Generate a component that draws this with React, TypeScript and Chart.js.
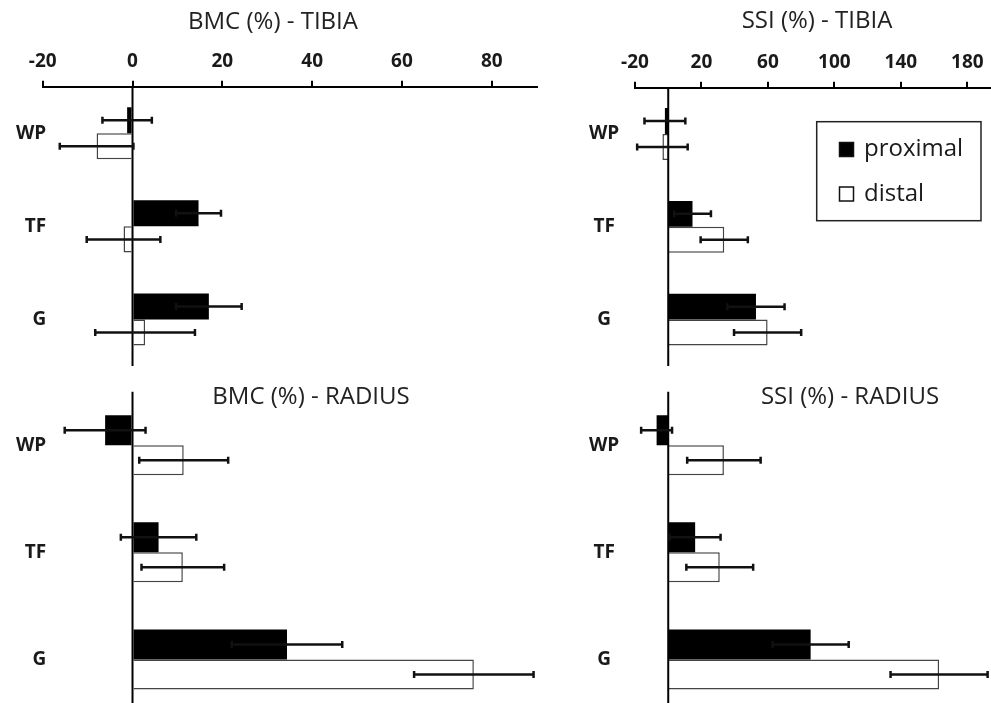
import React, { useEffect, useRef } from "react";
import { Chart, registerables } from "chart.js";

Chart.register(...registerables);

// ---------- data ----------
const categories = ["WP", "TF", "G"];
const seriesNames = ["proximal", "distal"];

const bmcTickValues = [-20, 0, 20, 40, 60, 80];
const ssiTickValues = [-20, 20, 60, 100, 140, 180];

const bmcTibiaProximal = [-1.2, 14.7, 17.0];
const bmcTibiaProximalErr = [5.5, 5.0, 7.3];
const bmcTibiaDistal = [-8.0, -2.0, 2.8];
const bmcTibiaDistalErr = [8.2, 8.2, 11.1];

const ssiTibiaProximal = [-2.0, 14.6, 52.8];
const ssiTibiaProximalErr = [12.3, 11.1, 17.2];
const ssiTibiaDistal = [-3.5, 33.7, 59.8];
const ssiTibiaDistalErr = [15.2, 14.2, 20.2];

const bmcRadiusProximal = [-6.1, 5.8, 34.4];
const bmcRadiusProximalErr = [9.0, 8.4, 12.3];
const bmcRadiusDistal = [11.4, 11.2, 76.0];
const bmcRadiusDistalErr = [9.9, 9.2, 13.3];

const ssiRadiusProximal = [-7.0, 16.2, 85.7];
const ssiRadiusProximalErr = [9.3, 15.3, 22.9];
const ssiRadiusDistal = [33.5, 31.0, 163.0];
const ssiRadiusDistalErr = [22.1, 20.1, 29.2];

// ---------- styling ----------
const FONT = '"Open Sans", "DejaVu Sans", sans-serif';
const TEXT = "#1a1a1a";

type PanelCfg = {
  title: string;
  left: number;
  top: number;
  width: number;
  height: number;
  xMin: number;
  xMax: number;
  ticks: number[];
  showAxis: boolean;
  axisHeight: number;
  padRight: number;
  yAxisWidth: number;
  labelAlign: "far" | "center";
  labelPadding: number;
  titleX: number;
  titleY: number;
  legend: boolean;
  proximal: number[];
  proximalErr: number[];
  distal: number[];
  distalErr: number[];
};

const panels: PanelCfg[] = [
  {
    title: "BMC (%) - TIBIA", left: 0, top: 0, width: 560, height: 366,
    xMin: -20, xMax: 90, ticks: bmcTickValues, showAxis: true, axisHeight: 86.7,
    padRight: 23.3, yAxisWidth: 42.7, labelAlign: "far", labelPadding: -26.7,
    titleX: 273, titleY: 22, legend: false,
    proximal: bmcTibiaProximal, proximalErr: bmcTibiaProximalErr,
    distal: bmcTibiaDistal, distalErr: bmcTibiaDistalErr,
  },
  {
    title: "SSI (%) - TIBIA", left: 560, top: 0, width: 431, height: 366,
    xMin: -20, xMax: 194, ticks: ssiTickValues, showAxis: true, axisHeight: 87.7,
    padRight: 0.4, yAxisWidth: 75, labelAlign: "center", labelPadding: -46,
    titleX: 257, titleY: 21, legend: true,
    proximal: ssiTibiaProximal, proximalErr: ssiTibiaProximalErr,
    distal: ssiTibiaDistal, distalErr: ssiTibiaDistalErr,
  },
  {
    title: "BMC (%) - RADIUS", left: 0, top: 380, width: 560, height: 333,
    xMin: -20, xMax: 90, ticks: bmcTickValues, showAxis: false, axisHeight: 11.7,
    padRight: 23.3, yAxisWidth: 42.7, labelAlign: "far", labelPadding: -26.7,
    titleX: 311, titleY: 17, legend: false,
    proximal: bmcRadiusProximal, proximalErr: bmcRadiusProximalErr,
    distal: bmcRadiusDistal, distalErr: bmcRadiusDistalErr,
  },
  {
    title: "SSI (%) - RADIUS", left: 560, top: 380, width: 431, height: 333,
    xMin: -20, xMax: 194, ticks: ssiTickValues, showAxis: false, axisHeight: 11.7,
    padRight: 0.4, yAxisWidth: 75, labelAlign: "center", labelPadding: -46,
    titleX: 290, titleY: 17, legend: false,
    proximal: ssiRadiusProximal, proximalErr: ssiRadiusProximalErr,
    distal: ssiRadiusDistal, distalErr: ssiRadiusDistalErr,
  },
];

// ---------- plugins ----------
const zeroLinePlugin = {
  id: "zeroLine",
  afterDatasetsDraw(chart: any) {
    const { ctx, chartArea, scales } = chart;
    const px = scales.x.getPixelForValue(0);
    ctx.save();
    ctx.strokeStyle = "#000";
    ctx.lineWidth = 2;
    ctx.beginPath();
    ctx.moveTo(px, chartArea.top);
    ctx.lineTo(px, chartArea.bottom);
    ctx.stroke();
    ctx.restore();
  },
};

const errorBarPlugin = {
  id: "errorBars",
  afterDatasetsDraw(chart: any) {
    const { ctx, scales } = chart;
    const xs = scales.x;
    chart.data.datasets.forEach((ds: any, di: number) => {
      const meta = chart.getDatasetMeta(di);
      meta.data.forEach((bar: any, i: number) => {
        const v = ds.data[i];
        const e = ds.errors[i];
        const x1 = xs.getPixelForValue(v - e);
        const x2 = xs.getPixelForValue(v + e);
        const y = bar.y;
        ctx.save();
        ctx.strokeStyle = "#111";
        ctx.lineWidth = 2.5;
        ctx.beginPath();
        ctx.moveTo(x1, y);
        ctx.lineTo(x2, y);
        ctx.stroke();
        ctx.beginPath();
        ctx.moveTo(x1, y - 3.5);
        ctx.lineTo(x1, y + 3.5);
        ctx.moveTo(x2, y - 3.5);
        ctx.lineTo(x2, y + 3.5);
        ctx.stroke();
        ctx.restore();
      });
    });
  },
};

function makeTitlePlugin(cfg: PanelCfg) {
  return {
    id: "panelTitle",
    afterDraw(chart: any) {
      const ctx = chart.ctx;
      ctx.save();
      ctx.font = `24px ${FONT}`;
      ctx.fillStyle = "#222";
      ctx.textAlign = "center";
      ctx.textBaseline = "middle";
      ctx.fillText(cfg.title, cfg.titleX, cfg.titleY);
      ctx.restore();
    },
  };
}

const boxLegendPlugin = {
  id: "boxLegend",
  afterDraw(chart: any) {
    const ctx = chart.ctx;
    const bx = 256.7, by = 121.7, bw = 164.3, bh = 99;
    ctx.save();
    ctx.strokeStyle = "#222";
    ctx.lineWidth = 1.5;
    ctx.strokeRect(bx, by, bw, bh);
    const rows = [149.5, 194];
    chart.data.datasets.forEach((ds: any, i: number) => {
      const cy = rows[i];
      const sx = 279.5, s = 14;
      ctx.fillStyle = ds.backgroundColor;
      ctx.fillRect(sx, cy - s / 2, s, s);
      ctx.strokeStyle = "#111";
      ctx.lineWidth = 1.5;
      ctx.strokeRect(sx, cy - s / 2, s, s);
      ctx.fillStyle = TEXT;
      ctx.font = `24px ${FONT}`;
      ctx.textAlign = "left";
      ctx.textBaseline = "middle";
      ctx.fillText(ds.label, 304, cy);
    });
    ctx.restore();
  },
};

function Panel({ cfg }: { cfg: PanelCfg }) {
  const ref = useRef<HTMLCanvasElement>(null);
  useEffect(() => {
    if (!ref.current) return;
    const chart = new Chart(ref.current, {
      type: "bar",
      data: {
        labels: categories,
        datasets: [
          {
            label: seriesNames[0],
            data: cfg.proximal,
            errors: cfg.proximalErr,
            backgroundColor: "#000",
            borderColor: "#000",
            borderWidth: 0,
          } as any,
          {
            label: seriesNames[1],
            data: cfg.distal,
            errors: cfg.distalErr,
            backgroundColor: "#fff",
            borderColor: "#444",
            borderWidth: 1.5,
          } as any,
        ],
      },
      options: {
        indexAxis: "y",
        responsive: false,
        animation: false,
        devicePixelRatio: 1,
        categoryPercentage: 0.56,
        barPercentage: 1,
        layout: {
          autoPadding: false,
          padding: { left: 0, top: 0, right: cfg.padRight, bottom: 0 },
        },
        plugins: {
          legend: { display: false },
          tooltip: { enabled: false },
          title: { display: false },
        },
        scales: {
          x: {
            type: "linear",
            position: "top",
            min: cfg.xMin,
            max: cfg.xMax,
            afterBuildTicks: (s: any) => {
              s.ticks = cfg.ticks.map((v) => ({ value: v }));
            },
            afterFit: (s: any) => {
              s.height = cfg.axisHeight;
              s.paddingLeft = 0;
              s.paddingRight = 0;
            },
            ticks: {
              display: cfg.showAxis,
              font: { family: FONT, size: 19, weight: "bold" },
              color: TEXT,
              padding: 8,
              maxRotation: 0,
              autoSkip: false,
            },
            grid: {
              drawOnChartArea: false,
              drawTicks: cfg.showAxis,
              tickLength: 6,
              tickWidth: 2,
              tickColor: "#000",
              color: "#000",
              lineWidth: 2,
            },
            border: { display: cfg.showAxis, color: "#000", width: 2 },
          },
          y: {
            type: "category",
            afterFit: (s: any) => {
              s.width = cfg.yAxisWidth;
              s.paddingTop = 0;
              s.paddingBottom = 0;
            },
            grid: { display: false, drawTicks: false },
            border: { display: false },
            ticks: {
              font: { family: FONT, size: 19, weight: "bold" },
              color: TEXT,
              mirror: true,
              crossAlign: cfg.labelAlign,
              padding: cfg.labelPadding,
            },
          },
        },
      } as any,
      plugins: [
        zeroLinePlugin,
        errorBarPlugin,
        makeTitlePlugin(cfg),
        ...(cfg.legend ? [boxLegendPlugin] : []),
      ],
    });
    return () => chart.destroy();
  }, []);
  return (
    <canvas
      ref={ref}
      width={cfg.width}
      height={cfg.height}
      style={{ position: "absolute", left: cfg.left, top: cfg.top }}
    />
  );
}

export default function App() {
  return (
    <div
      style={{
        position: "fixed",
        left: 0,
        top: 0,
        width: 991,
        height: 703,
        overflow: "hidden",
        background: "#fff",
      }}
    >
      {panels.map((p) => (
        <Panel key={p.title} cfg={p} />
      ))}
    </div>
  );
}
